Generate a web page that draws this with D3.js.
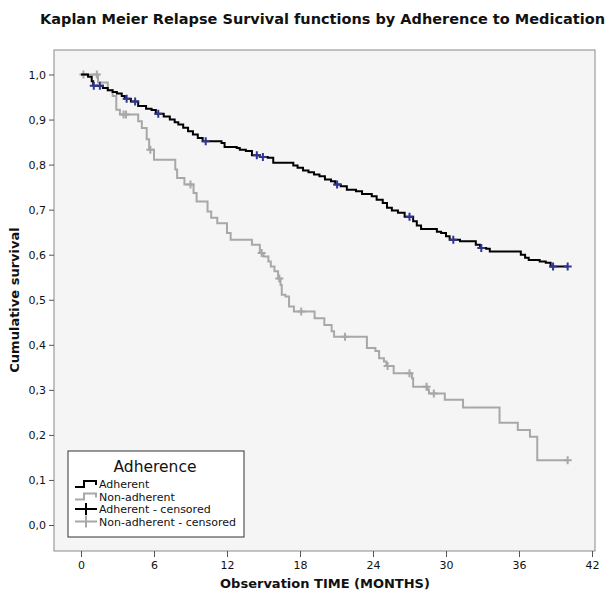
<!DOCTYPE html>
<html>
<head>
<meta charset="utf-8">
<script src="https://cdn.jsdelivr.net/npm/d3@7"></script>
<style>
  body { margin: 0; background: #fff; }
  svg text { font-family: "DejaVu Sans", sans-serif; fill: #111; }
</style>
</head>
<body>
<svg id="chart" width="609" height="594"></svg>
<script>
// Kaplan Meier step data (months, survival after drop)
const adhEventT = [0.58, 0.88, 1.0, 1.8, 2.2, 2.6, 2.95, 3.35, 3.6, 4.1, 4.7, 5.35, 5.8, 6.15, 6.8, 7.3, 7.7, 8.0, 8.4, 8.8, 9.2, 9.6, 10.0,
  11.55, 11.8, 12.8, 13.05, 13.55, 14.05, 14.7, 15.35, 15.8, 17.45, 17.8, 18.25, 18.7, 19.15, 19.6, 20.05, 20.55, 20.9,
  21.35, 21.85, 22.6, 23.1, 23.9, 24.3, 24.8, 25.15, 25.55, 26.05, 26.6, 27.3, 27.6, 27.95, 29.25, 29.6, 30.0, 30.3,
  31.15, 32.45, 32.8, 33.3, 33.6, 36.15, 36.5, 36.8, 37.7, 38.2, 38.6];
const adhEventS = [0.995, 0.985, 0.975, 0.970, 0.965, 0.961, 0.958, 0.952, 0.946, 0.940, 0.930, 0.924, 0.921, 0.913, 0.907, 0.900, 0.894, 0.889, 0.882, 0.874, 0.867, 0.859, 0.852,
  0.848, 0.839, 0.837, 0.833, 0.830, 0.821, 0.817, 0.815, 0.804, 0.798, 0.793, 0.787, 0.783, 0.778, 0.774, 0.767, 0.763, 0.756,
  0.752, 0.744, 0.741, 0.735, 0.730, 0.722, 0.715, 0.704, 0.698, 0.693, 0.684, 0.674, 0.665, 0.657, 0.651, 0.648, 0.641, 0.633,
  0.630, 0.622, 0.615, 0.613, 0.607, 0.600, 0.593, 0.588, 0.585, 0.582, 0.574];
const adhCensorT = [1.05, 1.55, 3.75, 4.45, 6.35, 10.25, 14.45, 14.95, 21.05, 27.0, 30.6, 32.9, 38.8, 40.0];

const nonEventT = [1.4, 2.2, 2.6, 2.9, 3.2, 4.7, 5.0, 5.4, 5.6, 6.0, 7.75, 7.9, 8.5, 9.25, 9.5, 10.4, 10.7, 11.2, 12.0, 12.3,
  14.05, 14.7, 15.0, 15.4, 15.6, 15.9, 16.2, 16.4, 16.5, 16.8, 17.1, 17.5, 19.2, 20.0, 20.6, 20.8,
  23.5, 24.2, 24.5, 24.9, 25.1, 25.7, 27.2, 27.3, 28.5, 28.6, 29.9, 31.4, 34.4, 35.9, 36.9, 37.5];
const nonEventS = [0.982, 0.965, 0.952, 0.922, 0.911, 0.896, 0.881, 0.856, 0.833, 0.811, 0.789, 0.770, 0.756, 0.737, 0.718, 0.696, 0.682, 0.670, 0.648, 0.633,
  0.622, 0.604, 0.596, 0.585, 0.574, 0.563, 0.547, 0.533, 0.511, 0.507, 0.485, 0.474, 0.459, 0.444, 0.430, 0.418,
  0.393, 0.386, 0.370, 0.363, 0.353, 0.337, 0.326, 0.307, 0.300, 0.292, 0.278, 0.261, 0.227, 0.211, 0.196, 0.144];
const nonCensorT = [0.2, 1.3, 3.5, 3.7, 5.7, 9.0, 14.85, 16.3, 18.1, 21.7, 25.2, 27.0, 28.4, 29.0, 40.0];

const xTicks = [0, 6, 12, 18, 24, 30, 36, 42];
const yTicks = [0, 0.1, 0.2, 0.3, 0.4, 0.5, 0.6, 0.7, 0.8, 0.9, 1.0];
const legendItems = ['Adherent', 'Non-adherent', 'Adherent - censored', 'Non-adherent - censored'];

const ADH = '#000000', NON = '#a8a8a8', ADH_CENSOR = '#2f3690';

const svg = d3.select('#chart');
const frame = { left: 54, top: 50, right: 595, bottom: 551 };

const x = d3.scaleLinear().domain([0, 42]).range([81, 592]);
const y = d3.scaleLinear().domain([0, 1]).range([525, 74.5]);

svg.append('text')
  .attr('x', 40).attr('y', 24)
  .style('font-weight', 'bold').style('font-size', '14.5px')
  .text('Kaplan Meier Relapse Survival functions by Adherence to Medication');

svg.append('rect')
  .attr('x', frame.left).attr('y', frame.top)
  .attr('width', frame.right - frame.left).attr('height', frame.bottom - frame.top)
  .attr('fill', '#f5f5f5').attr('stroke', '#8a8a8a').attr('stroke-width', 1);

// axes
const fmt = d => d3.format('.1f')(d).replace('.', ',');
const yAxis = svg.append('g')
  .attr('transform', `translate(${frame.left},0)`)
  .call(d3.axisLeft(y).tickValues(yTicks).tickFormat(fmt).tickSize(5).tickPadding(3));
const xAxis = svg.append('g')
  .attr('transform', `translate(0,${frame.bottom})`)
  .call(d3.axisBottom(x).tickValues(xTicks).tickSize(6).tickPadding(4));
[yAxis, xAxis].forEach(g => {
  g.select('.domain').remove();
  g.selectAll('line').attr('stroke', '#555');
  g.selectAll('text').style('font-size', '11px').attr('fill', '#222');
});

svg.append('text')
  .attr('transform', 'translate(19,300) rotate(-90)')
  .attr('text-anchor', 'middle')
  .style('font-weight', 'bold').style('font-size', '13px')
  .text('Cumulative survival');
svg.append('text')
  .attr('x', 325).attr('y', 588)
  .attr('text-anchor', 'middle')
  .style('font-weight', 'bold').style('font-size', '13px')
  .text('Observation TIME (MONTHS)');

// curves
function steps(ts, ss, end) {
  const pts = [[0, 1]];
  ts.forEach((t, i) => pts.push([t, ss[i]]));
  pts.push([end, ss[ss.length - 1]]);
  return pts;
}
function survAt(ts, ss, t) {
  let s = 1;
  ts.forEach((e, i) => { if (e <= t) s = ss[i]; });
  return s;
}
const line = d3.line().x(d => x(d[0])).y(d => y(d[1])).curve(d3.curveStepAfter);

const series = [
  { ts: nonEventT, ss: nonEventS, cens: nonCensorT, color: NON, mark: NON },
  { ts: adhEventT, ss: adhEventS, cens: adhCensorT, color: ADH, mark: ADH_CENSOR }
];
series.forEach(sr => {
  svg.append('path')
    .attr('d', line(steps(sr.ts, sr.ss, d3.max(sr.cens))))
    .attr('fill', 'none').attr('stroke', sr.color).attr('stroke-width', 2);
  svg.append('g').selectAll('path')
    .data(sr.cens)
    .join('path')
    .attr('d', t => {
      const cx = x(t), cy = y(survAt(sr.ts, sr.ss, t));
      return `M${cx - 4},${cy}H${cx + 4}M${cx},${cy - 4}V${cy + 4}`;
    })
    .attr('stroke', sr.mark).attr('stroke-width', 2);
});

// legend
const lg = svg.append('g').attr('transform', 'translate(68,451)');
lg.append('rect').attr('width', 176).attr('height', 86)
  .attr('fill', '#fff').attr('stroke', '#333').attr('stroke-width', 1);
lg.append('text').attr('x', 87).attr('y', 21).attr('text-anchor', 'middle')
  .style('font-size', '15.5px').text('Adherence');
const legColors = [ADH, NON, ADH, NON];
legendItems.forEach((name, i) => {
  const g = lg.append('g').attr('transform', `translate(7,${33 + i * 12.5})`);
  if (i < 2) {
    g.append('path').attr('d', 'M0,3H9V-3H21V1').attr('fill', 'none')
      .attr('stroke', legColors[i]).attr('stroke-width', 2);
  } else {
    g.append('path').attr('d', 'M0,0H22M11,-6V6')
      .attr('stroke', legColors[i]).attr('stroke-width', 2);
  }
  g.append('text').attr('x', 24).attr('y', 4).style('font-size', '11px').text(name);
});
</script>
</body>
</html>
